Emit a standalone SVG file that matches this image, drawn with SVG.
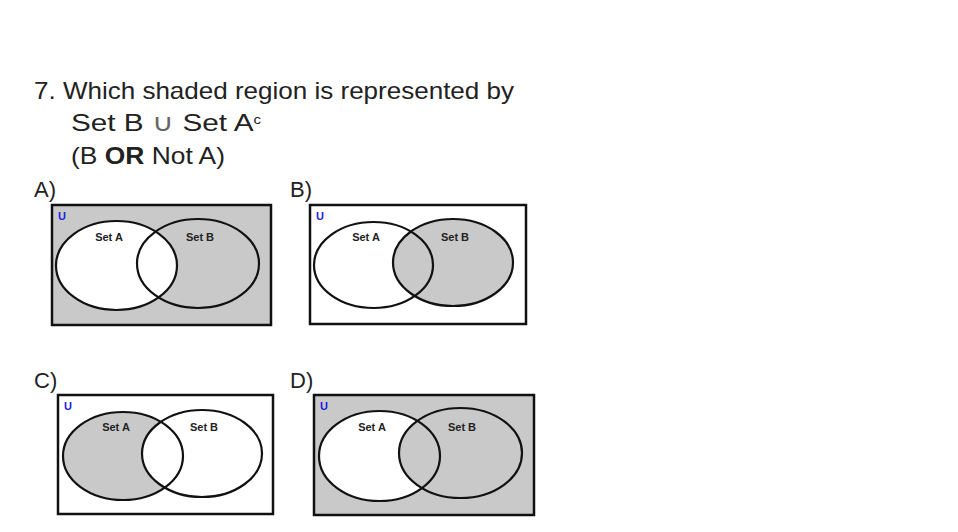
<svg xmlns="http://www.w3.org/2000/svg" width="958" height="532" viewBox="0 0 958 532">
<style>
.t{font-family:"Liberation Sans",Arial,sans-serif;fill:#222;}
.q{font-size:24px;}
.lab{font-size:22px;}
.box{stroke:#111;stroke-width:2.5;}
.ol{fill:none;stroke:#111;stroke-width:2.2;}
.g{fill:#c9c9c9;}
.w{fill:#fff;}
.s{font-family:"Liberation Sans",Arial,sans-serif;font-size:11px;font-weight:bold;fill:#222;text-anchor:middle;}
.u{font-family:"Liberation Sans",Arial,sans-serif;font-size:11px;font-weight:bold;fill:#2020e0;}
</style>
<rect width="958" height="532" fill="#fff"/>
<g id="question">
<text class="t q" x="34" y="99" textLength="480" lengthAdjust="spacingAndGlyphs">7. Which shaded region is represented by</text>
<text class="t q" x="71" y="131" textLength="190" lengthAdjust="spacingAndGlyphs">Set B <tspan fill="#666">∪</tspan> Set A<tspan font-size="12" dy="-7">c</tspan></text>
<text class="t q" x="71" y="164" textLength="154" lengthAdjust="spacingAndGlyphs">(B <tspan font-weight="bold">OR</tspan> Not A)</text>
</g>
<g id="optionA">
<text class="t lab" x="34" y="197">A)</text>
<rect class="box g" x="52" y="205" width="219" height="120"/>
<ellipse class="w" cx="116.5" cy="265.5" rx="60.5" ry="44.5"/>
<ellipse class="ol" cx="116.5" cy="265.5" rx="60.5" ry="44.5"/>
<ellipse class="ol" cx="198" cy="263.5" rx="61" ry="44.5"/>
<text class="u" x="58" y="220">U</text>
<text class="s" x="109" y="241">Set A</text>
<text class="s" x="200" y="241">Set B</text>
</g>
<g id="optionB">
<text class="t lab" x="290" y="197">B)</text>
<rect class="box w" x="310" y="205" width="216" height="119"/>
<ellipse class="g" cx="453" cy="262.5" rx="60" ry="43.5"/>
<ellipse class="ol" cx="373.5" cy="265" rx="59.5" ry="43"/>
<ellipse class="ol" cx="453" cy="262.5" rx="60" ry="43.5"/>
<text class="u" x="316" y="220">U</text>
<text class="s" x="366" y="241">Set A</text>
<text class="s" x="455" y="241">Set B</text>
</g>
<g id="optionC">
<text class="t lab" x="34" y="388">C)</text>
<rect class="box w" x="58" y="395" width="215" height="119"/>
<ellipse class="g" cx="123" cy="456" rx="60" ry="44"/>
<ellipse class="w" cx="202" cy="453.5" rx="60" ry="43.5"/>
<ellipse class="ol" cx="123" cy="456" rx="60" ry="44"/>
<ellipse class="ol" cx="202" cy="453.5" rx="60" ry="43.5"/>
<text class="u" x="64" y="410">U</text>
<text class="s" x="116" y="431">Set A</text>
<text class="s" x="204" y="431">Set B</text>
</g>
<g id="optionD">
<text class="t lab" x="290" y="388">D)</text>
<rect class="box g" x="314" y="395" width="220" height="120"/>
<ellipse class="w" cx="379.5" cy="456" rx="60.5" ry="45"/>
<ellipse class="g" cx="460.5" cy="453" rx="61.5" ry="45"/>
<ellipse class="ol" cx="379.5" cy="456" rx="60.5" ry="45"/>
<ellipse class="ol" cx="460.5" cy="453" rx="61.5" ry="45"/>
<text class="u" x="320" y="410">U</text>
<text class="s" x="372" y="431">Set A</text>
<text class="s" x="462" y="431">Set B</text>
</g>
<g id="connectors"/>
</svg>
